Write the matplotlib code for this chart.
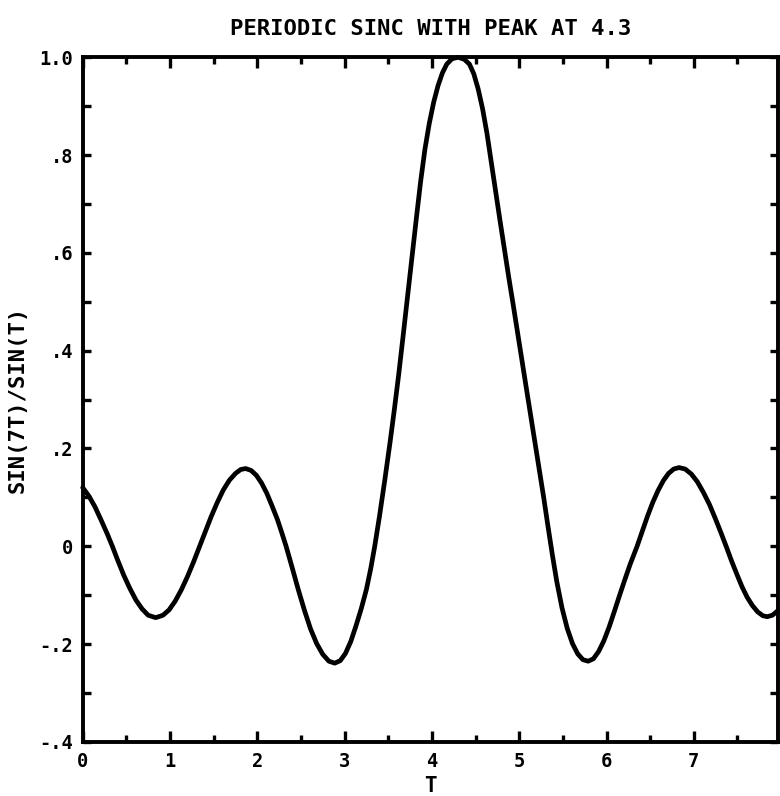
import matplotlib
matplotlib.use('Agg')
import matplotlib.pyplot as plt
from matplotlib.ticker import FixedLocator, FixedFormatter, MultipleLocator

# ---- data ----
t = [0.00, 0.07, 0.14, 0.21, 0.28, 0.34, 0.40, 0.47, 0.54, 0.61, 0.68, 0.75,
     0.836, 0.92, 0.99, 1.06, 1.13, 1.20, 1.27, 1.34, 1.40, 1.47, 1.54, 1.61,
     1.68, 1.75, 1.81, 1.867, 1.93, 1.99, 2.05, 2.11, 2.17, 2.23, 2.28, 2.33,
     2.40, 2.47, 2.54, 2.61, 2.68, 2.75, 2.82, 2.887, 2.95, 3.01, 3.07, 3.13,
     3.19, 3.25, 3.30, 3.345, 3.40, 3.46, 3.52, 3.57, 3.62, 3.67, 3.72, 3.77,
     3.82, 3.87, 3.92, 3.97, 4.02, 4.07, 4.12, 4.17, 4.23, 4.30, 4.37, 4.43,
     4.48, 4.53, 4.58, 4.63, 4.68, 4.73, 4.78, 4.83, 4.88, 4.93, 4.98, 5.03,
     5.08, 5.13, 5.18, 5.23, 5.28, 5.33, 5.38, 5.43, 5.49, 5.55, 5.61, 5.67,
     5.73, 5.79, 5.85, 5.91, 5.97, 6.03, 6.09, 6.15, 6.21, 6.27, 6.35, 6.41,
     6.47, 6.53, 6.59, 6.65, 6.71, 6.77, 6.83, 6.90, 6.97, 7.04, 7.11, 7.18,
     7.25, 7.31, 7.37, 7.43, 7.49, 7.55, 7.61, 7.67, 7.73, 7.79, 7.84, 7.90,
     7.96]
v = [0.120, 0.103, 0.081, 0.054, 0.026, 0.000, -0.028, -0.059, -0.086, -0.110, -0.128, -0.141,
     -0.146, -0.141, -0.130, -0.112, -0.089, -0.062, -0.032, 0.000, 0.028, 0.060, 0.089, 0.115,
     0.135, 0.149, 0.157, 0.159, 0.155, 0.145, 0.129, 0.108, 0.082, 0.055, 0.028, 0.000,
     -0.044, -0.089, -0.131, -0.169, -0.199, -0.221, -0.235, -0.239, -0.234, -0.219, -0.195, -0.163,
     -0.128, -0.088, -0.045, 0.000, 0.062, 0.135, 0.212, 0.280, 0.352, 0.430, 0.510, 0.590,
     0.668, 0.745, 0.812, 0.865, 0.908, 0.942, 0.968, 0.986, 0.997, 1.000, 0.996, 0.986,
     0.966, 0.935, 0.895, 0.845, 0.785, 0.725, 0.666, 0.608, 0.550, 0.495, 0.438, 0.382,
     0.325, 0.269, 0.212, 0.156, 0.100, 0.040, -0.018, -0.072, -0.126, -0.168, -0.199, -0.220,
     -0.232, -0.235, -0.230, -0.215, -0.193, -0.165, -0.133, -0.100, -0.068, -0.037, 0.000, 0.031,
     0.062, 0.090, 0.114, 0.134, 0.149, 0.158, 0.161, 0.158, 0.148, 0.132, 0.110, 0.085,
     0.055, 0.028, 0.000, -0.029, -0.056, -0.082, -0.104, -0.121, -0.134, -0.142, -0.144, -0.141,
     -0.132]

title = "PERIODIC SINC WITH PEAK AT 4.3"
xlabel = "T"
ylabel = "SIN(7T)/SIN(T)"
xticks = [0, 1, 2, 3, 4, 5, 6, 7]
xticklabels = ["0", "1", "2", "3", "4", "5", "6", "7"]
yticks = [-0.4, -0.2, 0.0, 0.2, 0.4, 0.6, 0.8, 1.0]
yticklabels = ["-.4", "-.2", "0", ".2", ".4", ".6", ".8", "1.0"]
xlim = (0, 7.96)
ylim = (-0.4, 1.0)

plt.rcParams['font.family'] = ['DejaVu Sans Mono', 'DejaVu Sans']
plt.rcParams['font.weight'] = 'bold'

fig = plt.figure(figsize=(7.8, 7.96), dpi=100)
ax = fig.add_axes([0.106, 0.068, 0.891, 0.860])
ax.plot(t, v, color='black', lw=3.4, solid_joinstyle='round',
        solid_capstyle='round', clip_on=False)
ax.set_xlim(*xlim)
ax.set_ylim(*ylim)

ax.xaxis.set_major_locator(FixedLocator(xticks))
ax.xaxis.set_major_formatter(FixedFormatter(xticklabels))
ax.xaxis.set_minor_locator(MultipleLocator(0.5))
ax.yaxis.set_major_locator(FixedLocator(yticks))
ax.yaxis.set_major_formatter(FixedFormatter(yticklabels))
ax.yaxis.set_minor_locator(MultipleLocator(0.1))

for s in ax.spines.values():
    s.set_linewidth(2.8)

ax.tick_params(which='both', direction='in', top=True, right=True, width=2.4,
               labelsize=13.5, pad=7)
ax.tick_params(axis='x', which='major', length=8)
ax.tick_params(axis='x', which='minor', length=5)
ax.tick_params(axis='y', which='both', length=6)
for lab in ax.get_xticklabels() + ax.get_yticklabels():
    lab.set_fontweight('bold')

ax.set_title(title, fontsize=16, fontweight='bold', pad=16)
ax.set_xlabel(xlabel, fontsize=15, fontweight='bold', labelpad=4)
ax.set_ylabel(ylabel, fontsize=16, fontweight='bold', labelpad=8)

fig.savefig('out.png', dpi=100)
